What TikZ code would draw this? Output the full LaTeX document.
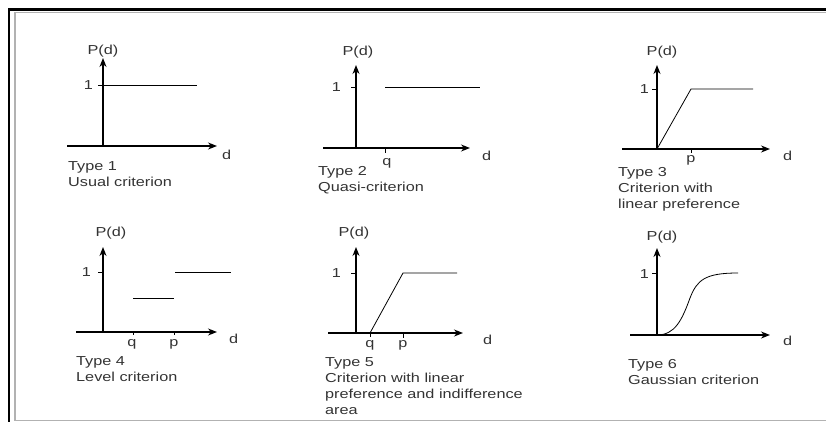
\documentclass[tikz,border=0pt]{standalone}
\usepackage{fontspec}
\setmainfont[FakeStretch=1.25]{Liberation Sans}
\usetikzlibrary{arrows.meta}

\begin{document}
\begin{tikzpicture}[x=1pt,y=-1pt,
    axis/.style={line width=1.3pt,-{Stealth[length=9pt,width=7pt]}},
    fn/.style={line width=0.8pt},
    lbl/.style={inner sep=0pt,text=black!80,font=\fontsize{13}{16}\selectfont},
    typetext/.style={lbl,align=left,anchor=north west},
  ]
  \useasboundingbox (0,0) rectangle (826,422);
  % frame
  \draw[line width=2.2pt] (9,422) -- (9,9.5) -- (826,9.5);
  \draw[gray!60,line width=1.4pt] (15,420.5) -- (15,12.8) -- (826,12.8);
  \draw[gray!60,line width=1.4pt] (15,420.5) -- (826,420.5);

  % type 1
  \draw[axis] (67,146) -- (217,146);
  \draw[axis] (103,146) -- (103,58);
  \draw[fn] (98,85) -- (197,85);
  \node[lbl,anchor=south] (pd1) at (103,57) {P(d)};
  \node[lbl,anchor=east] (one1) at (93,85) {1};
  \node[lbl,anchor=north west] (d1) at (222,150) {d};
  \node[typetext] (t1) at (68,161) {Type 1\\Usual criterion};

  % type 2
  \draw[axis] (323,148) -- (470,148);
  \draw[axis] (356,148) -- (356,65);
  \draw[fn] (351,87) -- (356,87);
  \draw[fn] (385,87) -- (480,87);
  \draw[fn] (385,148) -- (385,153);
  \node[lbl,anchor=south] (pd2) at (358,58) {P(d)};
  \node[lbl,anchor=east] (one2) at (341,87) {1};
  \node[lbl,anchor=north] (q2) at (387,158) {q};
  \node[lbl,anchor=north west] (d2) at (482,151) {d};
  \node[typetext] (t2) at (318,166) {Type 2\\Quasi-criterion};

  % type 3
  \draw[axis] (622,149) -- (770,149);
  \draw[axis] (657,149) -- (657,65);
  \draw[fn] (652,89) -- (657,89);
  \draw[fn] (657,149) -- (691,89) -- (753,89);
  \draw[fn] (691,149) -- (691,153);
  \node[lbl,anchor=north] (p3) at (691,155) {p};
  \node[lbl,anchor=south] (pd3) at (662,58) {P(d)};
  \node[lbl,anchor=east] (one3) at (649,89) {1};
  \node[lbl,anchor=north west] (d3) at (783,151) {d};
  \node[typetext] (t3) at (618,167) {Type 3\\Criterion with\\linear preference};

  % type 4
  \draw[axis] (76,332) -- (217,332);
  \draw[axis] (103,332) -- (103,247);
  \draw[fn] (98,272) -- (103,272);
  \draw[fn] (133,298) -- (174,298);
  \draw[fn] (175,272) -- (231,272);
  \draw[fn] (133,332) -- (133,335);
  \draw[fn] (174,332) -- (174,335);
  \node[lbl,anchor=south] (pd4) at (111,239) {P(d)};
  \node[lbl,anchor=east] (one4) at (91,272) {1};
  \node[lbl,anchor=north] (q4) at (132,339) {q};
  \node[lbl,anchor=north] (p4) at (174,339) {p};
  \node[lbl,anchor=north west] (d4) at (229,334) {d};
  \node[typetext] (t4) at (76,356) {Type 4\\Level criterion};

  % type 5
  \draw[axis] (328,333) -- (463,333);
  \draw[axis] (356,333) -- (356,247);
  \draw[fn] (351,273) -- (356,273);
  \draw[fn] (356,333) -- (370,333) -- (403,273) -- (457,273);
  \draw[fn] (370,333) -- (370,337);
  \draw[fn] (403,333) -- (403,338);
  \node[lbl,anchor=south] (pd5) at (354,239) {P(d)};
  \node[lbl,anchor=east] (one5) at (341,273) {1};
  \node[lbl,anchor=north] (q5) at (370,340) {q};
  \node[lbl,anchor=north] (p5) at (403,340) {p};
  \node[lbl,anchor=north west] (d5) at (483,335) {d};
  \node[typetext] (t5) at (325,357) {Type 5\\Criterion with linear\\preference and indifference\\area};

  % type 6
  \draw[axis] (630,335) -- (770,335);
  \draw[axis] (657,335) -- (657,248);
  \draw[fn] (652,273) -- (657,273);
  \draw[fn] (657,335) .. controls (675,335) and (682,320) .. (690,298)
    .. controls (697,280) and (705,273) .. (738,273);
  \node[lbl,anchor=south] (pd6) at (662,243) {P(d)};
  \node[lbl,anchor=east] (one6) at (649,274) {1};
  \node[lbl,anchor=north west] (d6) at (783,336) {d};
  \node[typetext] (t6) at (628,359) {Type 6\\Gaussian criterion};
\end{tikzpicture}
\end{document}
